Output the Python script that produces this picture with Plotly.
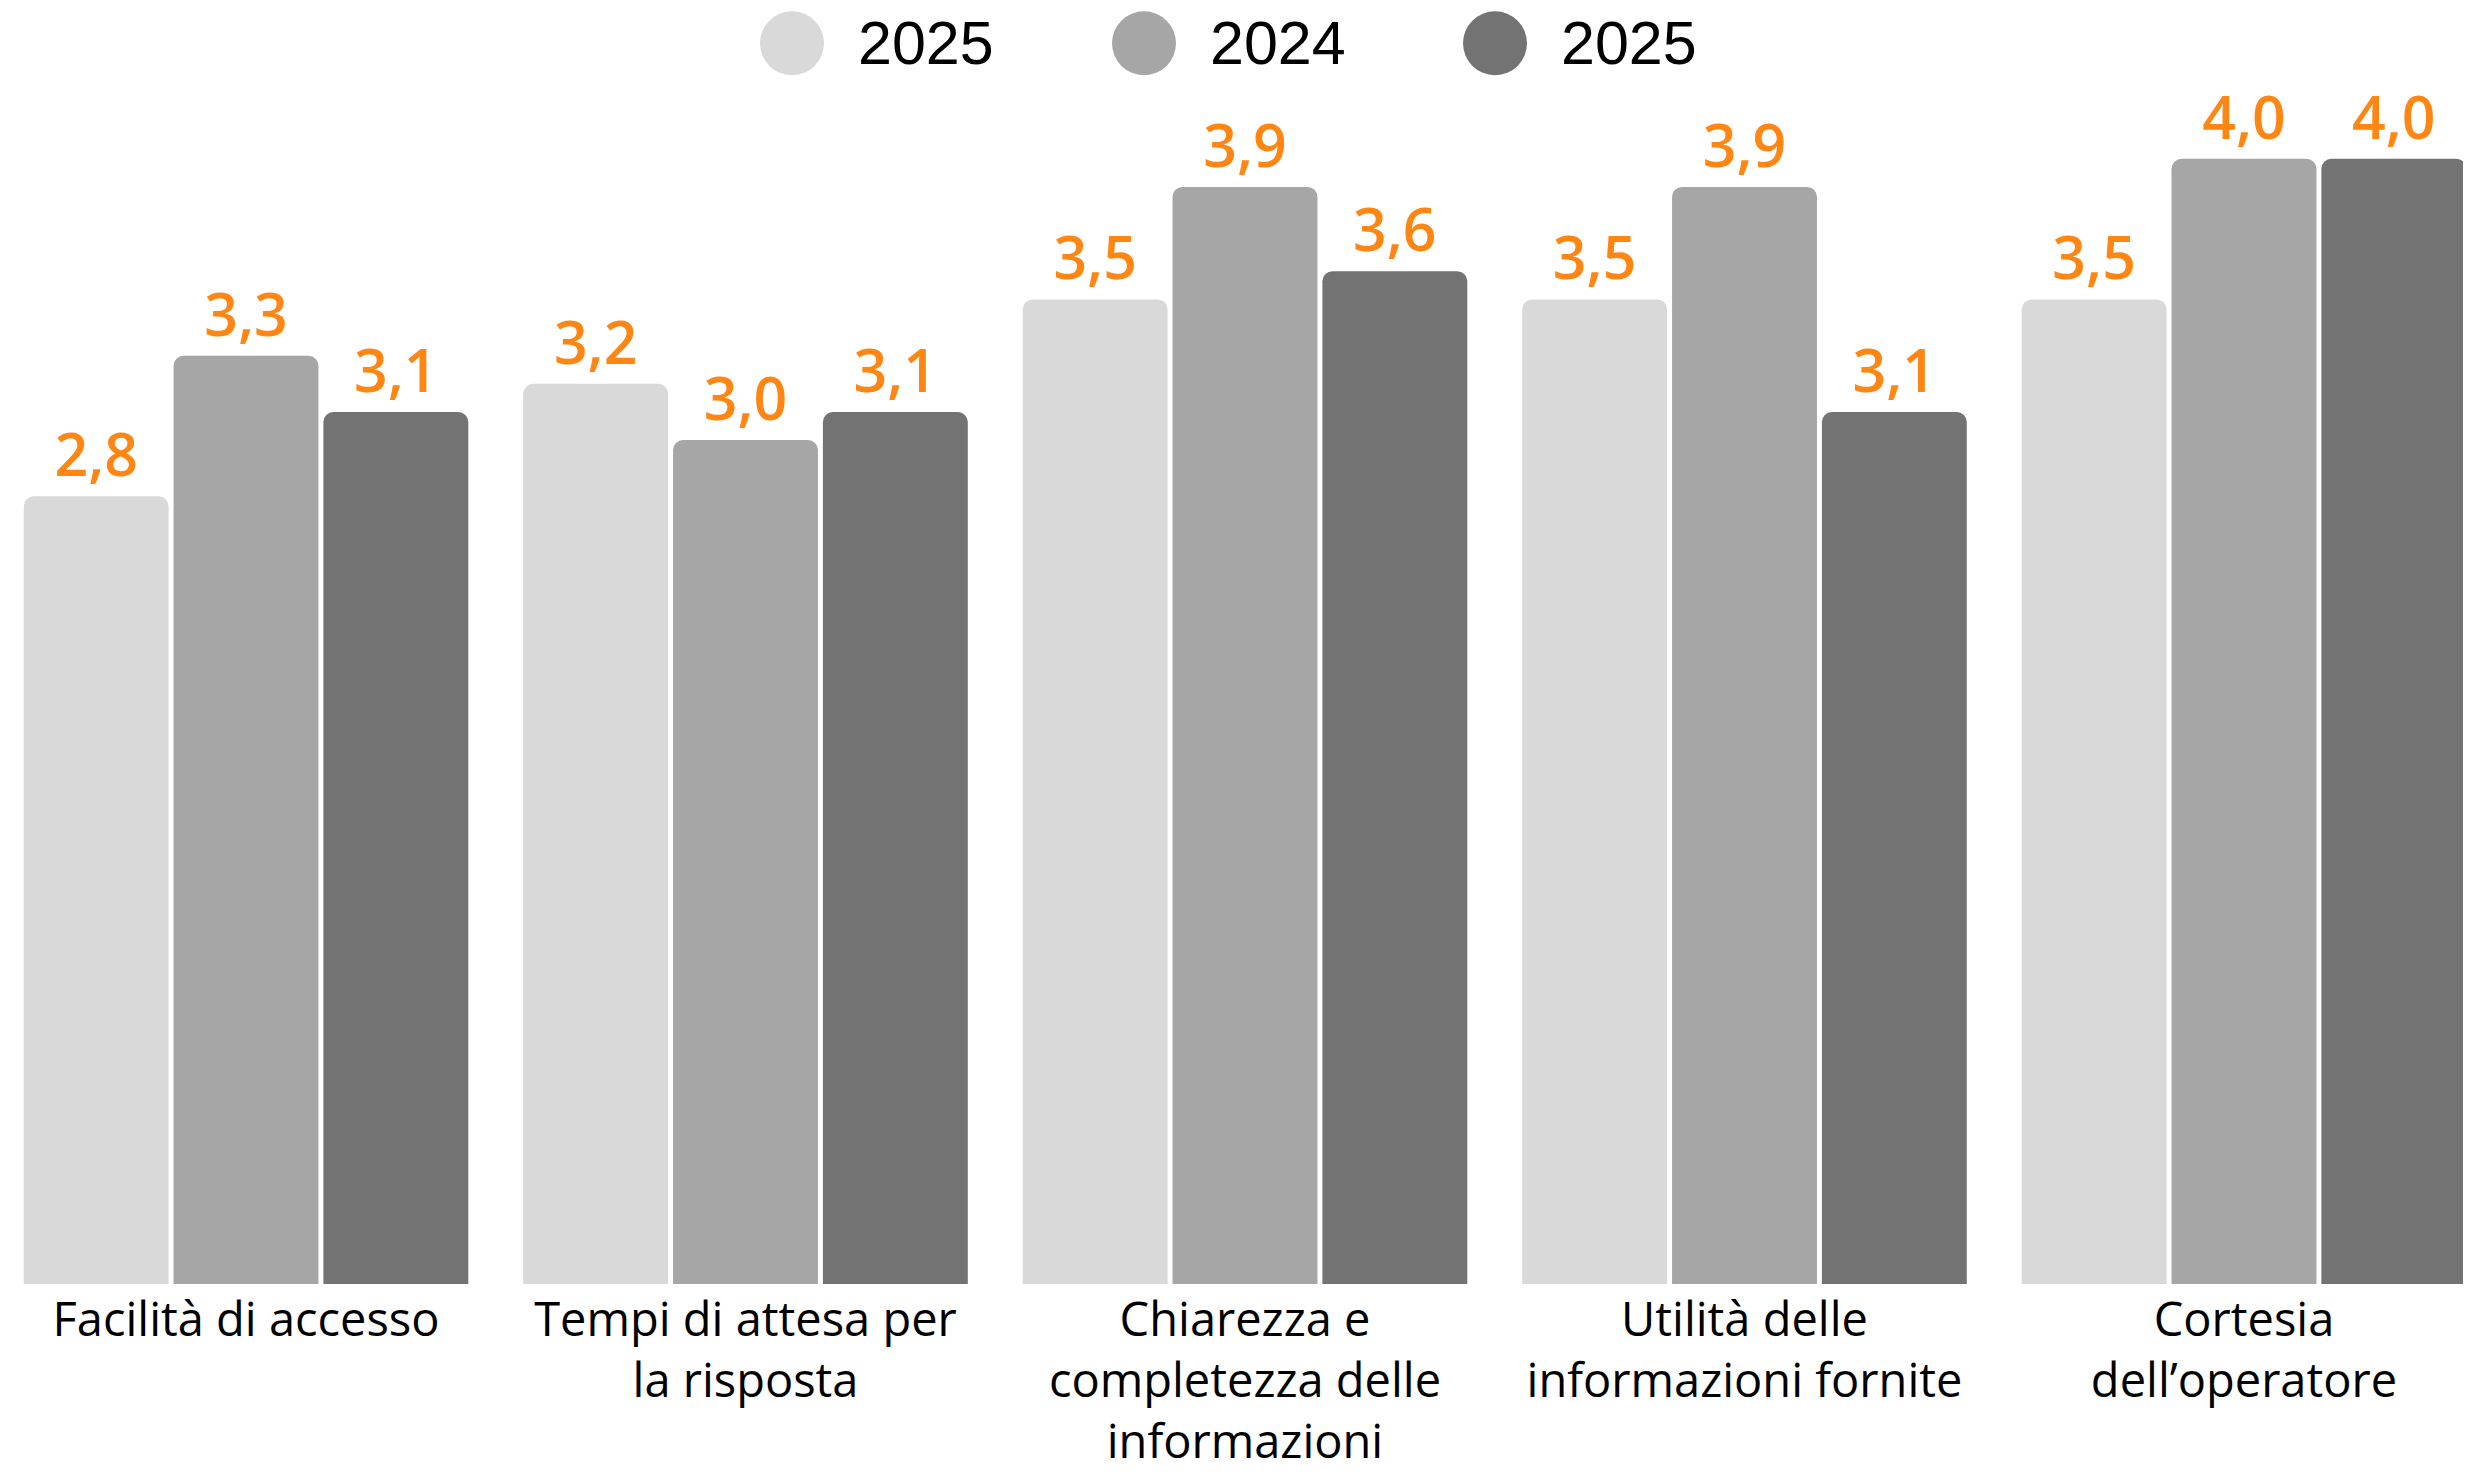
import plotly.graph_objects as go

categories = [
    "Facilità di accesso",
    "Tempi di attesa per<br>la risposta",
    "Chiarezza e<br>completezza delle<br>informazioni",
    "Utilità delle<br>informazioni fornite",
    "Cortesia<br>dell’operatore",
]
series_names = ["2025", "2024", "2025"]
values_a = [2.8, 3.2, 3.5, 3.5, 3.5]
values_b = [3.3, 3.0, 3.9, 3.9, 4.0]
values_c = [3.1, 3.1, 3.6, 3.1, 4.0]
colors = ["#D9D9D9", "#A6A6A6", "#737373"]
label_color = "#FF8612"

# page body has an 8px default margin, so the figure is 8px smaller
W, H = 2463, 1464
M_T, M_B = 100, 183
plot_h = H - M_T - M_B
px_per_unit = 282.5

fig = go.Figure()
for name, vals, col in zip(series_names, [values_a, values_b, values_c], colors):
    fig.add_trace(go.Bar(
        x=categories, y=vals, name=name,
        marker=dict(color=col, line=dict(width=0)),
        texttemplate="%{y:.1f}", textposition="outside",
        textfont=dict(family="Open Sans", size=59, color=label_color, weight=600),
        cliponaxis=False, showlegend=False, hoverinfo="skip",
    ))

# custom legend (large circles)
legend_centers_px = [784, 1136, 1487]
for name, col, cx in zip(series_names, colors, legend_centers_px):
    yc = (H - M_B - 35) / plot_h
    fig.add_shape(type="circle", xref="paper", yref="paper",
                  xsizemode="pixel", ysizemode="pixel",
                  xanchor=cx / W, yanchor=yc,
                  x0=-32, x1=32, y0=-32, y1=32,
                  fillcolor=col, line=dict(width=0))
    fig.add_annotation(xref="paper", yref="paper", x=(cx + 64) / W, y=yc,
                       xanchor="left", yanchor="middle", showarrow=False,
                       text=name, font=dict(family="Liberation Sans", size=61, color="#000000"))

fig.update_layout(
    width=W, height=H,
    margin=dict(l=0, r=0, t=M_T, b=M_B, pad=0),
    paper_bgcolor="white", plot_bgcolor="white",
    barmode="group", bargap=0.1, bargroupgap=0.033,
    barcornerradius=10,
    separators=",.",
    showlegend=False,
)
fig.update_xaxes(range=[-0.4765, 4.4545], showgrid=False, showline=False, ticks="",
                 ticklabelstandoff=4,
                 tickfont=dict(family="Open Sans", size=47, color="#000000"))
fig.update_yaxes(range=[0, plot_h / px_per_unit], visible=False, showgrid=False, zeroline=False)

fig.write_html("out.html")
